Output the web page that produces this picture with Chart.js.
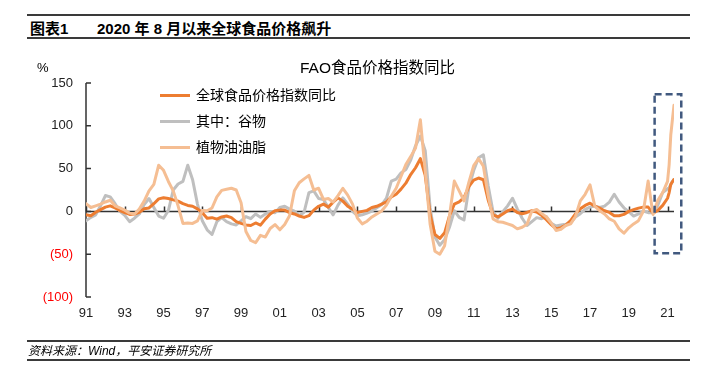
<!DOCTYPE html>
<html>
<head>
<meta charset="utf-8">
<script src="https://cdn.jsdelivr.net/npm/chart.js@4.4.0/dist/chart.umd.min.js"></script>
<style>
  body { margin: 0; background: #fff; }
  #wrap { position: relative; width: 702px; height: 378px; overflow: hidden;
          font-family: "Liberation Sans", "Noto Sans CJK SC", sans-serif; color: #000; }
  #chart { position: absolute; left: 0; top: 0; }
  .rule { position: absolute; left: 27px; width: 663px; background: #3a3a3a; }
  .txt { position: absolute; white-space: nowrap; }
  .leg { position: absolute; left: 160px; height: 20px; line-height: 20px; font-size: 14px; white-space: nowrap; }
  .leg i { display: inline-block; width: 30px; height: 3px; vertical-align: middle; margin-right: 6px; position: relative; top: -1px; }
</style>
</head>
<body>
<div id="wrap">
  <div class="rule" style="top:14px;height:2px"></div>
  <div class="txt" style="left:30px;top:19px;height:20px;line-height:20px;font-size:15px;font-weight:bold">图表1</div>
  <div class="txt" style="left:97px;top:19px;height:20px;line-height:20px;font-size:15px;font-weight:bold">2020 年 8 月以来全球食品价格飙升</div>
  <div class="rule" style="top:37px;height:2px"></div>

  <canvas id="chart" width="702" height="378"></canvas>

  <div class="txt" style="left:37px;top:60px;height:16px;line-height:16px;font-size:13px">%</div>
  <div class="txt" style="left:300px;top:59px;height:18px;line-height:18px;font-size:15.5px">FAO食品价格指数同比</div>

  <div class="leg" style="top:85px"><i style="background:#ED7D31"></i>全球食品价格指数同比</div>
  <div class="leg" style="top:111px"><i style="background:#BFBFBF"></i>其中：谷物</div>
  <div class="leg" style="top:137px"><i style="background:#F5BE93"></i>植物油油脂</div>

  <div class="rule" style="top:340px;height:1.5px"></div>
  <div class="txt" style="left:28px;top:343px;height:16px;line-height:16px;font-size:12px;font-style:italic">资料来源：Wind，平安证券研究所</div>
  <div class="rule" style="top:359px;height:1.5px"></div>
</div>

<script>
// months counted from Jan 1991 (0) to May 2021 (364)
const months = [
  0, 3, 6, 9, 12, 15, 18, 21, 24, 27, 30, 33,
  36, 39, 42, 45, 48, 51, 54, 57, 60, 63, 66, 69,
  72, 75, 78, 81, 84, 87, 90, 93, 96, 99, 102, 105,
  108, 111, 114, 117, 120, 123, 126, 129, 132, 135, 138, 141,
  144, 147, 150, 153, 156, 159, 162, 165, 168, 171, 174, 177,
  180, 183, 186, 189, 192, 195, 198, 201, 204, 207, 210, 213,
  216, 219, 222, 225, 228, 231, 234, 237, 240, 243, 246, 249,
  252, 255, 258, 261, 264, 267, 270, 273, 276, 279, 282, 285,
  288, 291, 294, 297, 300, 303, 306, 309, 312, 315, 318, 321,
  324, 327, 330, 333, 336, 339, 342, 345, 348, 351, 354, 357,
  360, 361, 362, 363, 364
]

// 全球食品价格指数同比 (%)
const foodIndex = [
  -4, -5, -1, 2, 5, 6.5, 4, 1, -1.5, -3.5, -3, -1,
  3, 4, 9, 14.6, 16, 15, 13.5, 12, 9, 7, 6, 3,
  -1.5, -8, -7.3, -9, -6.5, -5.4, -7.3, -12, -14, -15.8, -16.5, -13.5,
  -16, -9, -3, 0.8, 1.5, 1.5, -1.5, -3, -5.4, -7, -5, 1.5,
  6, 8.5, 5, 10.8, 15.8, 12, 6, 2.7, -1.2, 0, 1.2, 4.6,
  6, 8.5, 11, 17, 20, 26, 33, 43, 51, 61.6, 42, -3.5,
  -27, -31.6, -25, -5.4, 8.5, 11, 16, 29, 36.6, 39, 37, 13,
  -4, -6.5, -3, 0.8, 2.7, -1.2, -2.7, -1.2, 0.8, -0.8, -4.6, -9.6,
  -15.4, -20.4, -18.9, -16, -10.8, -3, 3, 7, 9.6, 6.2, 3.8, 0.8,
  -1.2, -5, -5, -3.5, 0, 2, 3.8, 5, 5, -2, 1.2, 7,
  15.4, 22, 31.5, 34.6, 37.3
]

// 其中：谷物 (%)
const cereals = [
  -11, -7, -4, 6.5, 18.5, 17, 9, 0, -4.6, -12, -8, -3,
  8, 15, 4.6, -5.4, -8, 1, 25, 32, 35, 54, 37, 8.5,
  -11, -21.5, -27, -12, -7.3, -12, -14.6, -15.8, -11, -6, -8.5, -3,
  -7, -3, 0, -1.5, 4.6, 6, 2.7, 0.4, -5, -1, 22, 24,
  15, 14, 4.6, -4, 7.3, 15.8, 8.5, 0, -5, -4, -2, 0.4,
  4.2, 7.7, 15.4, 35.4, 37.7, 45, 49, 60, 76.6, 88, 71, 4.6,
  -30, -39.6, -33, -18.5, 0.8, -7, -10, 27.7, 47.7, 62.7, 66, 29.6,
  -0.8, -8, -0.4, 6.5, 15.4, 3, -8, -16.5, -12, -7.3, -8.5, -6,
  -14, -17, -15.8, -15, -13.5, -6.5, -2.7, 2.3, 5, 6.2, 4.6, 6.2,
  10.8, 20, 11, 4.2, -0.4, -5.4, -3, 0.4, -1.5, -1.5, 7.3, 22,
  26.5, 27.7, 31.5, 35, 37.3
]

// 植物油油脂 (%)
const vegOils = [
  9, 4.6, 6.5, 8.5, 11, 13, 6.5, 4, 1.5, -2, -3, 2.7,
  12, 24, 31.5, 54, 48, 35, 24, 6.5, -14, -13.5, -14, -11,
  1, 0.8, 4, 17, 24.6, 25.8, 27, 25, 10, -23.5, -34, -36.6,
  -28, -30, -20, -15.4, -21.5, -15.4, -5, 24, 33.5, 38, 42, 25,
  27, 14, 15, 10.8, 18.5, 27, 19, 8.5, -7.7, -14.6, -11.5, -6.5,
  -3, 0.4, 7.3, 17.7, 27, 40.8, 54.7, 64, 74, 107, 47, -14.6,
  -46.6, -50, -40, -5, 35.4, 23.9, 12.3, 34, 53.5, 61.6, 52.7, 18,
  -8.8, -12, -12.7, -14.6, -16.5, -20.4, -18.5, -15, 0.4, 2.3, -2.3, -6.5,
  -13.5, -22.3, -20.8, -16.5, -14.6, -6, 12.3, 20, 31, 5.8, 0.8, -3,
  -8.8, -11.5, -20.4, -25.4, -19.2, -14.6, -10.8, 0, 35.4, -3.5, 13, 22,
  35, 54.7, 89, 107, 124
]

const yearTicks = [0, 24, 48, 72, 96, 120, 144, 168, 192, 216, 240, 264, 288, 312, 336, 360]
const yearLabels = ['91', '93', '95', '97', '99', '01', '03', '05', '07', '09', '11', '13', '15', '17', '19', '21']
const yTicks = [-100, -50, 0, 50, 100, 150]
const yLabels = ['(100)', '(50)', '0', '50', '100', '150']

// highlighted period since Aug 2020 [x from, x to, y from, y to]
const highlight = [352, 368.5, -49, 137]

function toPoints(values) {
    return months.map((m, i) => ({ x: m, y: values[i] }))
}

const axisDecor = {
    id: 'axisDecor',
    beforeDatasetsDraw(chart) {
        const { ctx, chartArea: a, scales: { x, y } } = chart
        const y0 = y.getPixelForValue(0)
        ctx.save()
        ctx.strokeStyle = '#333'
        ctx.lineWidth = 1.5
        ctx.beginPath()
        ctx.moveTo(a.left, y0)
        ctx.lineTo(a.right, y0)
        yearTicks.forEach(v => {
            const px = Math.round(x.getPixelForValue(v)) + 0.5
            ctx.moveTo(px, y0)
            ctx.lineTo(px, y0 - 5)
        })
        ctx.stroke()
        ctx.beginPath()
        ctx.moveTo(a.left, a.top)
        ctx.lineTo(a.left, a.bottom)
        yTicks.forEach(v => {
            const py = y.getPixelForValue(v)
            ctx.moveTo(a.left, py)
            ctx.lineTo(a.left + 5, py)
        })
        ctx.stroke()
        ctx.restore()
    },
    afterDatasetsDraw(chart) {
        const { ctx, scales: { x, y } } = chart
        const x0 = x.getPixelForValue(highlight[0])
        const x1 = x.getPixelForValue(highlight[1])
        const yb = y.getPixelForValue(highlight[2])
        const yt = y.getPixelForValue(highlight[3])
        ctx.save()
        ctx.strokeStyle = '#41597F'
        ctx.lineWidth = 2.5
        ctx.setLineDash([7, 4])
        ctx.strokeRect(x0, yt, x1 - x0, yb - yt)
        ctx.restore()
    }
}

const ctx = document.getElementById('chart').getContext('2d')
new Chart(ctx, {
    type: 'line',
    data: {
        datasets: [
            { label: '植物油油脂', data: toPoints(vegOils), borderColor: '#F5BE93', order: 1 },
            { label: '全球食品价格指数同比', data: toPoints(foodIndex), borderColor: '#ED7D31', order: 2 },
            { label: '其中：谷物', data: toPoints(cereals), borderColor: '#BFBFBF', order: 3 }
        ]
    },
    options: {
        responsive: false,
        animation: false,
        events: [],
        layout: { padding: { left: 36, top: 83, right: 28, bottom: 53 } },
        elements: {
            line: { borderWidth: 3, tension: 0, borderJoinStyle: 'round', borderCapStyle: 'round' },
            point: { radius: 0 }
        },
        scales: {
            x: {
                type: 'linear',
                min: 0,
                max: 364,
                afterFit: s => { s.height = 28 },
                afterBuildTicks: s => { s.ticks = yearTicks.map(v => ({ value: v })) },
                grid: { display: false, drawTicks: false },
                border: { display: false },
                ticks: {
                    padding: 9,
                    maxRotation: 0,
                    autoSkip: false,
                    color: '#222',
                    font: { family: '"Liberation Sans", sans-serif', size: 13 },
                    callback: v => yearLabels[yearTicks.indexOf(v)]
                }
            },
            y: {
                min: -100,
                max: 150,
                afterFit: s => { s.width = 50 },
                afterBuildTicks: s => { s.ticks = yTicks.map(v => ({ value: v })) },
                grid: { display: false, drawTicks: false },
                border: { display: false },
                ticks: {
                    padding: 13,
                    color: c => c.tick.value < 0 ? '#FF0000' : '#222',
                    font: { family: '"Liberation Sans", sans-serif', size: 13 },
                    callback: v => yLabels[yTicks.indexOf(v)]
                }
            }
        },
        plugins: {
            legend: { display: false },
            tooltip: { enabled: false },
            title: { display: false }
        }
    },
    plugins: [axisDecor]
})
</script>
</body>
</html>
